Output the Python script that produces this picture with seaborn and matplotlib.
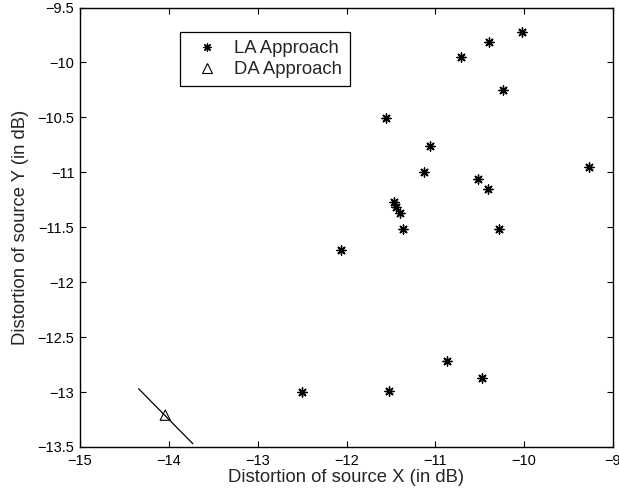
import matplotlib
matplotlib.use("Agg")
import matplotlib.pyplot as plt
from matplotlib.lines import Line2D
import seaborn as sns
import pandas as pd

la_x = [-10.02, -10.40, -10.71, -10.24, -11.56, -11.06, -11.13, -9.27, -10.52, -10.41,
        -11.47, -11.44, -11.40, -11.36, -10.28, -12.06, -10.87, -10.47, -11.52, -12.50]
la_y = [-9.72, -9.81, -9.95, -10.25, -10.51, -10.76, -11.00, -10.95, -11.06, -11.15,
        -11.27, -11.32, -11.37, -11.52, -11.52, -11.71, -12.72, -12.87, -12.99, -13.00]
da_x = [-14.04]
da_y = [-13.21]
line_x = [-14.34, -13.73]
line_y = [-12.97, -13.47]

xticks = [-15, -14, -13, -12, -11, -10, -9]
yticks = [-13.5, -13, -12.5, -12, -11.5, -11, -10.5, -10, -9.5]
xtick_labels = ["\u221215", "\u221214", "\u221213", "\u221212", "\u221211", "\u221210", "\u22129"]
ytick_labels = ["\u221213.5", "\u221213", "\u221212.5", "\u221212", "\u221211.5", "\u221211", "\u221210.5", "\u221210", "\u22129.5"]

sns.set_style("ticks")
plt.rcParams["font.family"] = ["Liberation Sans", "DejaVu Sans"]

fig = plt.figure(figsize=(6.19, 4.93), dpi=100)
ax = fig.add_axes([80/619, 1-447/493, 533/619, 439.5/493])

la = pd.DataFrame({"x": la_x, "y": la_y})
da = pd.DataFrame({"x": da_x, "y": da_y})
ln = pd.DataFrame({"x": line_x, "y": line_y})

ast = (8, 2, 0)
sns.lineplot(data=ln, x="x", y="y", sort=False, color="black", linewidth=0.9, ax=ax)
sns.scatterplot(data=la, x="x", y="y", marker=ast, s=42, color="black",
                edgecolor="black", linewidth=1.0, ax=ax, zorder=3)
sns.scatterplot(data=da, x="x", y="y", marker="^", s=55, facecolor="none",
                edgecolor="black", linewidth=0.8, ax=ax, zorder=3)

ax.set_xlim(-15, -9)
ax.set_ylim(-13.5, -9.5)
ax.set_xticks(xticks)
ax.set_xticklabels(xtick_labels)
ax.set_yticks(yticks)
ax.set_yticklabels(ytick_labels)
ax.tick_params(axis="both", direction="in", top=True, right=True, length=4, width=0.8,
               labelsize=10.5, colors="black")
ax.tick_params(axis="x", pad=5)
ax.tick_params(axis="y", pad=4)
for s in ax.spines.values():
    s.set_linewidth(1.0)
    s.set_color("black")
ax.set_xlabel("Distortion of source X (in dB)", fontsize=13.3, labelpad=1)
ax.set_ylabel("Distortion of source Y (in dB)", fontsize=13.3, labelpad=6)

handles = [
    Line2D([], [], linestyle="none", marker=ast, markersize=6, color="black", markeredgewidth=0.9),
    Line2D([], [], linestyle="none", marker="^", markersize=6.5, markerfacecolor="none",
           markeredgecolor="black", markeredgewidth=0.8),
]
leg = ax.legend(handles, ["LA Approach", "DA Approach"], loc="upper left",
                bbox_to_anchor=(0.1876, 0.944), fancybox=False, framealpha=1,
                edgecolor="black", fontsize=13.3, handlelength=2.0, handletextpad=0.48,
                borderpad=0.45, labelspacing=0.2, borderaxespad=0)
leg.get_frame().set_linewidth(0.9)

fig.savefig("out.png", dpi=100)
